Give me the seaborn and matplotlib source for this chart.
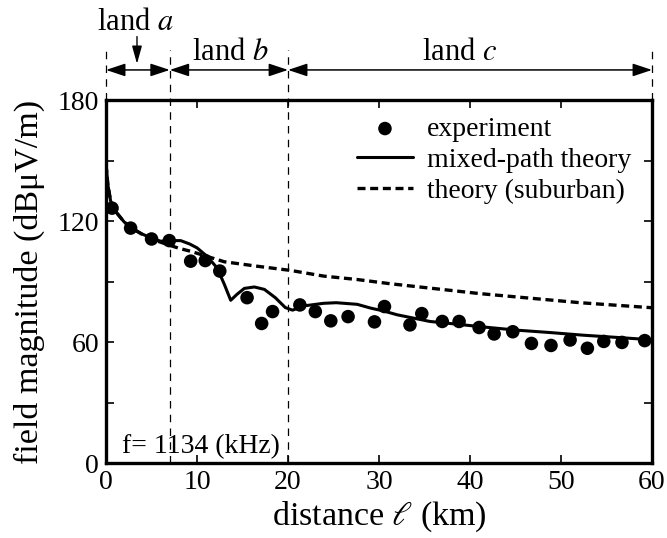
import numpy as np
import pandas as pd
import seaborn as sns
import matplotlib.pyplot as plt
from matplotlib.ticker import MultipleLocator, FixedLocator

# experimental points (km, dBuV/m)
exp_x = [0.66, 2.7, 5.0, 6.95, 9.3, 10.9, 12.5, 15.5, 17.1, 18.3, 21.3, 23.0, 24.7,
         26.6, 29.5, 30.6, 33.4, 34.7, 36.95, 38.8, 41.0, 42.65, 44.7, 46.75, 48.9,
         51.0, 52.9, 54.7, 56.7, 59.2]
exp_y = [126.4, 116.5, 111.1, 110.3, 100.1, 100.4, 95.2, 82.0, 69.2, 75.1, 78.4, 75.1, 70.5,
         72.6, 70.0, 77.6, 68.5, 74.1, 70.2, 70.2, 67.2, 64.0, 65.1, 59.3, 58.3,
         61.0, 56.9, 60.3, 59.8, 60.7]

# mixed-path theory
mix_x = [0.0, 0.2, 0.5, 1.0, 2.0, 3.0, 4.0, 5.0, 6.0, 7.0, 8.2, 9.2, 10.0, 11.1, 12.2,
         13.0, 13.7, 14.4, 15.2, 16.3, 17.4, 18.6, 19.7, 20.5, 21.7, 23.9, 25.3, 27.6,
         29.1, 30.5, 32.0, 35.6, 37.8, 41.4, 45.1, 48.8, 52.4, 56.1, 60.0]
mix_y = [148, 138, 130, 125, 119.5, 116, 113.5, 111.5, 110, 110.3, 110.3, 108.6, 106.7, 102.5, 96.8,
         88.6, 80.7, 83.7, 86.6, 87.3, 86.1, 82.0, 77.1, 75.8, 77.9, 79.2, 79.5, 78.7,
         76.8, 75.4, 73.5, 70.2, 69.2, 67.5, 65.9, 64.7, 63.4, 62.3, 61.1]

# theory (suburban)
sub_x = [0.0, 0.2, 0.5, 1.0, 2.0, 3.0, 4.0, 5.0, 6.0, 7.0, 8.0, 9.3, 13.0, 16.6, 20.3,
         23.9, 27.6, 31.25, 41.1, 52.1, 60.0]
sub_y = [148, 138, 130, 125, 119.5, 116, 113.3, 111, 109.5, 108, 106.5, 105, 99.8, 97.6, 95.5,
         92.7, 91, 88.9, 84, 79.5, 77.0]

land_edges = [0, 7, 20, 60]

sns.set_style("ticks")
plt.rcParams['font.family'] = ['Liberation Serif', 'DejaVu Serif']
plt.rcParams['mathtext.fontset'] = 'stix'
plt.rcParams['text.color'] = 'k'
plt.rcParams['axes.labelcolor'] = 'k'

fig = plt.figure(figsize=(6.67, 5.38), dpi=100)
ax = fig.add_axes([0.159, 0.1394, 0.8185, 0.6746])

sns.scatterplot(x=exp_x, y=exp_y, ax=ax, color='k', s=95, edgecolor='none',
                label='experiment', zorder=3)
sns.lineplot(x=mix_x, y=mix_y, ax=ax, color='k', lw=2.2, sort=False,
             label='mixed-path theory')
sns.lineplot(x=sub_x, y=sub_y, ax=ax, color='k', lw=2.4, sort=False,
             linestyle=(0, (2.4, 1.4)), label='theory (suburban)')

ax.set_xlim(0, 60)
ax.set_ylim(0, 180)
ax.xaxis.set_major_locator(MultipleLocator(10))
ax.yaxis.set_major_locator(MultipleLocator(60))
ax.yaxis.set_minor_locator(FixedLocator([30, 90, 150]))
ax.tick_params(which='both', direction='in', top=True, right=True, length=6,
               width=1.2, labelsize=20, pad=5, color='k', labelcolor='k')
for s in ax.spines.values():
    s.set_linewidth(2.4)
    s.set_color('k')
    s.set_visible(True)

ax.set_xlabel(r'distance $\ell$ (km)', fontsize=24.5, labelpad=3)
ax.set_ylabel('field magnitude (dBμV/m)', fontsize=24.5, labelpad=9)

# land boundaries
tr = ax.get_xaxis_transform()
for e in land_edges:
    y0 = 0 if e in (7, 20) else 1
    ax.plot([e, e], [y0, 1.138], transform=tr, color='k', lw=0.9,
            linestyle=(0, (6, 5)), clip_on=False)
for a, b in zip(land_edges[:-1], land_edges[1:]):
    ax.annotate('', xy=(a, 1.083), xytext=(b, 1.083), xycoords=tr, textcoords=tr,
                arrowprops=dict(arrowstyle='<|-|>,head_length=0.9,head_width=0.3',
                                color='k', lw=1.1, shrinkA=0, shrinkB=0,
                                mutation_scale=13))
ax.text(3.2, 1.215, r'land $a$', transform=tr, ha='center', va='center', fontsize=22)
ax.annotate('', xy=(3.4, 1.1), xytext=(3.4, 1.175), xycoords=tr, textcoords=tr,
            arrowprops=dict(arrowstyle='-|>,head_length=0.9,head_width=0.25',
                            color='k', lw=1.0, shrinkA=0, shrinkB=0, mutation_scale=12))
ax.text(13.7, 1.13, r'land $b$', transform=tr, ha='center', va='center', fontsize=22)
ax.text(38.9, 1.13, r'land $c$', transform=tr, ha='center', va='center', fontsize=22)

ax.text(1.7, 8, 'f= 1134 (kHz)', ha='left', va='center', fontsize=20)

handles, labels = ax.get_legend_handles_labels()
order = [labels.index(l) for l in ['experiment', 'mixed-path theory', 'theory (suburban)']]
ax.legend([handles[i] for i in order], [labels[i] for i in order],
          loc='upper left', bbox_to_anchor=(0.46, 0.955), frameon=False,
          fontsize=20, handlelength=2.0, handletextpad=0.5, labelspacing=0.2,
          borderpad=0, borderaxespad=0)

fig.savefig('out.png', dpi=100)
